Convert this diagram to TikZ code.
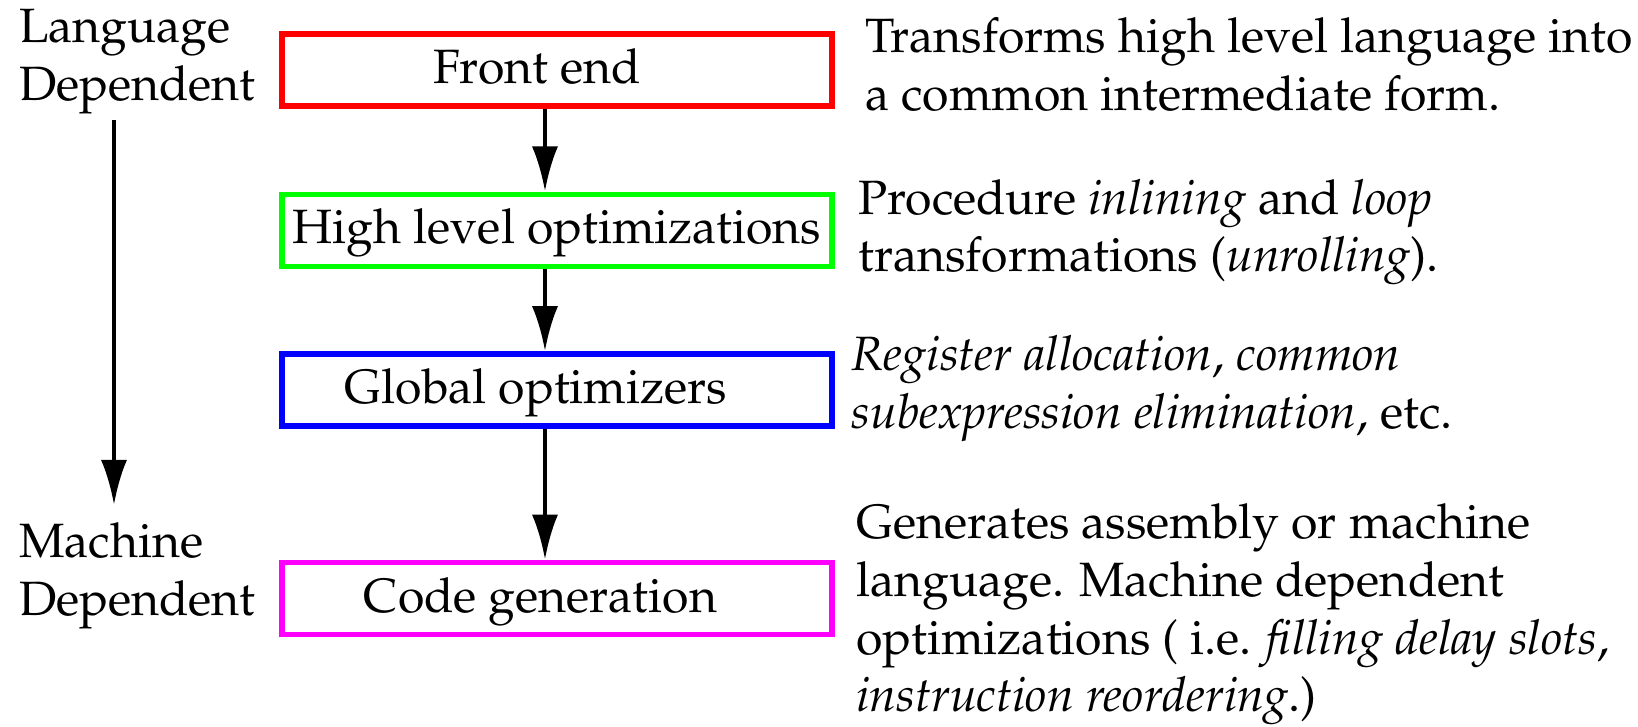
\documentclass[tikz,border=0pt]{standalone}
\usepackage[T1]{fontenc}
\usepackage{mathpazo}
\usetikzlibrary{arrows.meta}
\definecolor{cred}{RGB}{255,0,0}
\definecolor{cgreen}{RGB}{0,255,0}
\definecolor{cblue}{RGB}{0,0,255}
\definecolor{cmag}{RGB}{255,0,255}
\tikzset{
  txt/.style={font=\fontsize{13.7pt}{16.4pt}\selectfont, inner sep=0pt, align=left, anchor=base west},
  stage/.style={draw, line width=1.55pt, minimum width=5.5cm, minimum height=0.72cm, inner sep=0pt,
    text height=0.37cm, text depth=0.1cm, font=\fontsize{13.7pt}{16.4pt}\selectfont},
  flow/.style={line width=1.25pt, -{Latex[length=0.45cm,width=0.26cm]}},
}
\begin{document}
\begin{tikzpicture}[x=0.01cm,y=-0.01cm]
\useasboundingbox (0,0) rectangle (1638,726);
% stages
\node[stage, draw=cred] (fe) at (557,70) {\hspace*{-0.4cm}Front end};
\node[stage, draw=cgreen] (hl) at (557,230.25) {High level optimizations};
\node[stage, draw=cblue] (go) at (557,390) {\hspace*{-0.42cm}Global optimizers};
\node[stage, draw=cmag] (cg) at (557,598.5) {\hspace*{-0.33cm}Code generation};
% flow arrows
\draw[flow] ([xshift=-0.12cm]fe.south) -- ([xshift=-0.12cm]hl.north);
\draw[flow] ([xshift=-0.12cm]hl.south) -- ([xshift=-0.12cm]go.north);
\draw[flow] ([xshift=-0.12cm]go.south) -- ([xshift=-0.12cm]cg.north);
% left labels (anchored at the baseline of the last line)
\node[txt] (ld) at (18.3,100) {Language\\Dependent};
\node[txt] (md) at (18.3,615) {Machine\\Dependent};
\coordinate (ls) at (114,120);
\coordinate (le) at (114,505);
\draw[flow] (ls) -- (le);
% descriptions
\node[txt] (d1) at (864.5,110) {Transforms high level language into\\a common intermediate form.};
\node[txt] (d2) at (857.7,271.7) {Procedure \textit{inlining} and \textit{loop}\\transformations (\textit{unrolling}).};
\node[txt] (d3) at (851,428.3) {\textit{Register allocation}, \textit{common}\\\textit{subexpression elimination}, etc.};
\node[txt] (d4) at (855.6,711.7) {Generates assembly or machine\\language. Machine dependent\\optimizations ( i.e. \textit{filling delay slots},\\\textit{instruction reordering}.)};
\end{tikzpicture}
\end{document}
